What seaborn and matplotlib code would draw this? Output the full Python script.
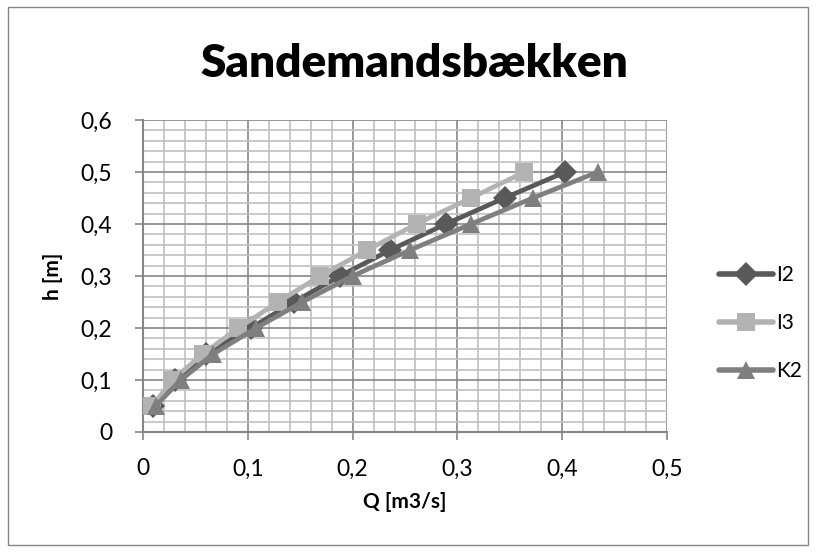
import matplotlib
matplotlib.use("Agg")
import matplotlib.pyplot as plt
import seaborn as sns
import pandas as pd
from matplotlib.ticker import MultipleLocator, FuncFormatter
from matplotlib.patches import Rectangle

h_values = [0.05, 0.10, 0.15, 0.20, 0.25, 0.30, 0.35, 0.40, 0.45, 0.50]
q_I2 = [0.010, 0.031, 0.060, 0.103, 0.144, 0.188, 0.236, 0.289, 0.345, 0.403]
q_I3 = [0.009, 0.028, 0.057, 0.091, 0.129, 0.169, 0.214, 0.261, 0.313, 0.364]
q_K2 = [0.012, 0.036, 0.067, 0.108, 0.152, 0.200, 0.255, 0.313, 0.372, 0.434]
series_names = ["I2", "I3", "K2"]

rows = []
for name, qs in zip(series_names, [q_I2, q_I3, q_K2]):
    for q, h in zip(qs, h_values):
        rows.append({"Q": q, "h": h, "series": name})
df = pd.DataFrame(rows)

sns.set_theme(style="white")
plt.rcParams['font.family'] = ['Lato', 'DejaVu Sans']
plt.rcParams['text.color'] = 'black'
plt.rcParams['axes.labelcolor'] = 'black'

fig = plt.figure(figsize=(8.16, 5.52), dpi=100)
fig.patch.set_facecolor("white")
fig.patches.append(Rectangle((8/816, 7/552), 800/816, 538/552, transform=fig.transFigure,
                             fill=False, edgecolor="#868686", linewidth=1.0))
ax = fig.add_axes([143/816, (552-432)/552, 524/816, 312/552])

palette = {"I2": "#595959", "I3": "#b3b3b3", "K2": "#7f7f7f"}
markers = {"I2": "D", "I3": "s", "K2": "^"}

sns.lineplot(data=df, x="Q", y="h", hue="series", style="series", palette=palette,
             markers=markers, dashes=False, sort=False, linewidth=3.4, markersize=12.5,
             markeredgewidth=0, ax=ax, legend="full", zorder=3)

for line in ax.lines:
    line.set_solid_capstyle("round")

ax.set_xlim(0, 0.5)
ax.set_ylim(0, 0.6)
ax.xaxis.set_major_locator(MultipleLocator(0.1))
ax.yaxis.set_major_locator(MultipleLocator(0.1))
ax.xaxis.set_minor_locator(MultipleLocator(0.02))
ax.yaxis.set_minor_locator(MultipleLocator(0.02))
fmt = FuncFormatter(lambda v, p: "0" if abs(v) < 1e-9 else f"{v:.1f}".replace(".", ","))
ax.xaxis.set_major_formatter(fmt)
ax.yaxis.set_major_formatter(fmt)
ax.grid(which="major", color="#868686", linewidth=1.2, zorder=1)
ax.grid(which="minor", color="#c0c0c0", linewidth=1.2, zorder=0)
ax.set_axisbelow(True)
for s in ["top", "right"]:
    ax.spines[s].set_visible(False)
for s in ["left", "bottom"]:
    ax.spines[s].set_color("#868686")
    ax.spines[s].set_linewidth(1.5)
ax.tick_params(axis="both", which="major", direction="out", length=6, width=1.2,
               color="#868686", labelsize=16.5, labelcolor="black")
ax.tick_params(axis="y", which="major", pad=16)
ax.tick_params(axis="x", which="major", pad=13)
ax.tick_params(which="minor", length=0)
ax.tick_params(axis="both", which="both", bottom=True, left=True)

ax.set_xlabel("Q [m3/s]", fontsize=15, fontweight="bold", labelpad=9, color="black")
ax.set_ylabel("h [m]", fontsize=15, fontweight="bold", labelpad=13, color="black")
fig.suptitle("Sandemandsbækken", fontsize=33, fontweight="heavy", x=0.508, y=0.922,
             color="black")

handles, labels = ax.get_legend_handles_labels()
leg = ax.legend(handles, labels, loc="center left", bbox_to_anchor=(700/816, (552-323)/552),
                bbox_transform=fig.transFigure, frameon=False, fontsize=15,
                handlelength=2.6, labelspacing=1.35, handletextpad=0.15)
for lh in leg.get_lines():
    lh.set_linewidth(4)
    lh.set_solid_capstyle("round")

fig.savefig("out.png", dpi=100, facecolor="white")
